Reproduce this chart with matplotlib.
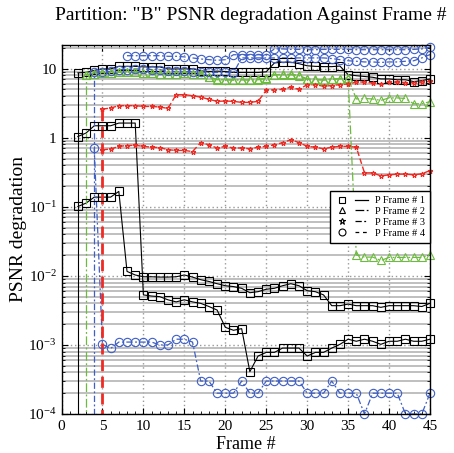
import matplotlib
matplotlib.use('Agg')
import matplotlib.pyplot as plt
from matplotlib.lines import Line2D
from matplotlib.legend_handler import HandlerTuple
from matplotlib.ticker import FixedLocator, FixedFormatter, MultipleLocator, LogLocator, NullFormatter

plt.rcParams['font.family'] = ['Liberation Serif', 'DejaVu Serif']
plt.rcParams['mathtext.fontset'] = 'custom'
plt.rcParams['mathtext.rm'] = 'Liberation Serif'
plt.rcParams['mathtext.it'] = 'Liberation Serif:italic'

# value used before a P frame is first lost (drawn as the start line)
ZERO = 1e-12

# ---------------- data ----------------
p1_start = 2
p1_a = [8.7, 8.8, 9.45, 9.9, 9.9, 10.8, 10.8, 10.8, 10.6, 10.6, 10.6, 9.9, 9.9, 9.9, 10.0,
        9.3, 9.1, 9.2, 9.1, 8.8, 8.8, 8.8, 8.8, 9.0, 12.1, 12.4, 12.4, 11.8, 11.0, 10.8,
        10.7, 10.7, 10.9, 8.2, 7.9, 7.7, 7.5, 7.1, 7.1, 6.9, 6.9, 6.5, 6.7, 7.1]
p1_b = [1.04, 1.17, 1.49, 1.49, 1.49, 1.63, 1.63, 1.63, 0.0053, 0.0051, 0.0050, 0.0045,
        0.0042, 0.0045, 0.0042, 0.0040, 0.0036, 0.0032, 0.0018, 0.00163, 0.00172, 0.00041,
        0.00069, 0.00078, 0.00078, 0.00090, 0.00090, 0.00090, 0.00069, 0.00078, 0.00078,
        0.00090, 0.00102, 0.00121, 0.00113, 0.00121, 0.00113, 0.00102, 0.00113, 0.00113,
        0.00121, 0.00113, 0.00113, 0.00121]
p1_c = [0.101, 0.113, 0.138, 0.138, 0.138, 0.167, 0.0116, 0.0103, 0.0097, 0.0097, 0.0096,
        0.0096, 0.0097, 0.0103, 0.0096, 0.0088, 0.0083, 0.0077, 0.0072, 0.0070, 0.0066,
        0.0057, 0.0059, 0.0064, 0.0066, 0.0072, 0.0077, 0.0072, 0.0061, 0.0059, 0.0053,
        0.0037, 0.0037, 0.0039, 0.0037, 0.0037, 0.0037, 0.0035, 0.0037, 0.0037, 0.0037,
        0.0037, 0.0036, 0.0040]

p2_start = 3
p2_a = [8.2, 8.5, 8.7, 8.7, 8.9, 8.9, 8.9, 8.7, 8.7, 8.5, 8.4, 8.4, 8.7, 8.5, 8.5, 7.6,
        7.0, 6.9, 6.9, 6.9, 6.9, 7.0, 7.3, 8.2, 8.3, 8.3, 8.0, 7.1, 7.0, 6.9, 7.1, 7.2,
        7.3, 3.64, 3.70, 3.64, 3.47, 3.77, 3.77, 3.70, 3.10, 3.10, 3.33]
p2_b = [8.2, 8.4, 8.6, 8.7, 8.8, 8.8, 8.8, 8.7, 8.6, 8.4, 8.3, 8.4, 8.6, 8.4, 8.4, 7.5,
        6.9, 6.9, 6.8, 6.9, 6.8, 6.9, 7.2, 8.1, 8.2, 8.2, 7.9, 7.0, 6.9, 6.8, 7.0, 7.1,
        7.3, 0.0201, 0.0187, 0.0187, 0.0167, 0.0185, 0.0185, 0.0185, 0.0185, 0.0185, 0.0201]

p3_start = 4
p3_a = [8.95, 8.95, 9.1, 9.7, 9.7, 9.9, 9.9, 9.7, 9.7, 9.1, 9.1, 9.1, 9.0, 9.0, 8.8, 8.8,
        8.8, 8.7, 14.3, 14.3, 14.3, 14.3, 14.3, 14.3, 14.3, 14.3, 14.3, 14.3, 14.3, 14.0,
        13.5, 13.0, 12.8, 12.5, 12.5, 12.3, 12.5, 12.5, 12.8, 13.0, 14.3, 16.0]
p3_b = [0.70, 1.02e-3, 8.9e-4, 1.1e-3, 1.1e-3, 1.1e-3, 1.1e-3, 1.1e-3, 1.0e-3, 1.0e-3,
        1.21e-3, 1.21e-3, 1.1e-3, 3e-4, 3e-4, 2e-4, 2e-4, 2e-4, 3e-4, 2e-4, 2e-4, 3e-4,
        3e-4, 3e-4, 3e-4, 3e-4, 2e-4, 2e-4, 2e-4, 3e-4, 2e-4, 2e-4, 2e-4, 1e-4, 2e-4,
        2e-4, 2e-4, 2e-4, 1e-4, 1e-4, 1e-4, 2e-4]
p3_top_start = 8
p3_top = [15.4, 15.4, 15.4, 15.4, 15.4, 15.1, 15.1, 14.8, 14.3, 13.8, 13.5, 13.2, 13.5,
          15.9, 15.9, 15.9, 15.9, 15.9, 19.3, 19.3, 19.0, 19.0, 18.8, 18.8, 19.0, 19.0,
          19.0, 19.0, 18.8, 18.8, 18.8, 18.8, 18.8, 18.8, 18.8, 19.0, 19.3, 20.5]

p4_start = 5
p4_a = [2.6, 2.69, 2.91, 2.91, 2.91, 2.84, 2.84, 2.78, 2.66, 4.2, 4.2, 4.06, 3.87, 3.6,
        3.36, 3.40, 3.36, 3.25, 3.25, 3.36, 4.85, 4.95, 5.0, 5.4, 5.0, 5.87, 5.87, 5.55,
        5.7, 5.87, 6.0, 6.4, 6.4, 6.2, 6.0, 6.4, 6.4, 6.3, 6.3, 6.4, 6.55]
p4_b = [0.67, 0.685, 0.75, 0.77, 0.776, 0.75, 0.73, 0.72, 0.67, 0.655, 0.655, 0.63, 0.85,
        0.79, 0.71, 0.75, 0.71, 0.71, 0.69, 0.73, 0.75, 0.79, 0.85, 0.935, 0.85, 0.75,
        0.73, 0.69, 0.73, 0.75, 0.75, 0.73, 0.31, 0.31, 0.28, 0.29, 0.297, 0.297, 0.29,
        0.30, 0.335]

legend_labels = ['P Frame # 1', 'P Frame # 2', 'P Frame # 3', 'P Frame # 4']
x_ticks = [0, 5, 10, 15, 20, 25, 30, 35, 40, 45]
y_ticks = [1e-4, 1e-3, 1e-2, 1e-1, 1, 10]
y_tick_labels = ['10$^{-4}$', '10$^{-3}$', '10$^{-2}$', '10$^{-1}$', '1', '10']

# ---------------- styles ----------------
BLACK = '#000000'
GREEN = '#6dbb3e'
BLUE = '#3f5fc4'
RED = '#f02a22'

fig = plt.figure(figsize=(4.54, 4.53), dpi=100)
ax = fig.add_axes([61.5 / 454, 39 / 453, 368.5 / 454, 369 / 453])
ax.set_yscale('log')


def draw_group(start, series, color, marker, ms, lw, dashes=None, lead_lw=None):
    # start line: from "zero" up to the first value of the group
    first = max(s[0] for s in series)
    kw = dict(color=color, linestyle='-', zorder=3)
    if dashes is not None:
        kw['dashes'] = dashes
    ax.plot([start, start], [ZERO, first], lw=lead_lw or lw, **kw)
    for vals in series:
        xs = list(range(start, start + len(vals)))
        ax.plot(xs, vals, lw=lw, **kw)
        ax.plot(xs, vals, linestyle='none', marker=marker, ms=ms, mfc='none',
                mec=color, mew=0.8, clip_on=False, zorder=4)


def draw_series(start, vals, color, marker, ms, lw, dashes=None):
    xs = list(range(start, start + len(vals)))
    kw = dict(color=color, linestyle='-', zorder=3)
    if dashes is not None:
        kw['dashes'] = dashes
    ax.plot(xs, vals, lw=lw, **kw)
    ax.plot(xs, vals, linestyle='none', marker=marker, ms=ms, mfc='none',
            mec=color, mew=0.8, clip_on=False, zorder=4)


# P frame 1 (black, solid, squares)
draw_group(p1_start, [p1_a, p1_b, p1_c], BLACK, 's', 5.5, 0.8)
# P frame 2 (green, dash-dot, triangles)
draw_group(p2_start, [p2_a, p2_b], GREEN, '^', 5.5, 0.9, dashes=(7, 2, 1.5, 2))
# P frame 3 (blue, dash-dot, circles)
draw_group(p3_start, [p3_a, p3_b], BLUE, 'o', 6.0, 0.9, dashes=(5, 2, 1.5, 2))
draw_series(p3_top_start, p3_top, BLUE, 'o', 6.0, 0.9, dashes=(5, 2, 1.5, 2))
# P frame 4 (red, dashed, stars)
draw_group(p4_start, [p4_a, p4_b], RED, '*', 3.5, 1.0, dashes=(4, 2), lead_lw=2.0)

# ---------------- axes ----------------
ax.set_xlim(0, 45)
ax.set_ylim(1e-4, 22)
ax.xaxis.set_major_locator(FixedLocator(x_ticks))
ax.xaxis.set_minor_locator(MultipleLocator(1))
ax.yaxis.set_major_locator(FixedLocator(y_ticks))
ax.yaxis.set_major_formatter(FixedFormatter(y_tick_labels))
ax.yaxis.set_minor_locator(LogLocator(base=10, subs=range(2, 10), numticks=20))
ax.yaxis.set_minor_formatter(NullFormatter())

ax.grid(True, which='major', axis='both', linestyle=(0, (1, 2)), color='#999999', lw=1.0, zorder=1)
ax.grid(True, which='minor', axis='y', linestyle='-', color='#b4b4b4', lw=1.2, zorder=1)

ax.tick_params(which='both', direction='in', top=True, right=True, labelsize=11, colors='black')
ax.tick_params(which='major', length=4, width=0.8)
ax.tick_params(which='minor', length=2, width=0.6)
ax.tick_params(axis='x', pad=4)
for sp in ax.spines.values():
    sp.set_linewidth(1.0)
    sp.set_zorder(5)

fig.text(251 / 454, 1 - 15 / 453, 'Partition: "B" PSNR degradation Against Frame #',
         ha='center', va='center', fontsize=14)
ax.set_xlabel('Frame #', fontsize=13)
ax.xaxis.set_label_coords(0.5, -0.059)
ax.set_ylabel('PSNR degradation', fontsize=14, labelpad=1)

# ---------------- legend ----------------
mk_styles = [('s', None), ('^', (7, 2, 1.5, 2)), ('*', (5, 2, 1.5, 2)), ('o', (3, 3))]
handles = []
for m, d in mk_styles:
    mk = Line2D([], [], linestyle='none', marker=m, ms=5, mfc='none', mec='black', mew=0.8)
    kw = dict(color='black', lw=0.9, linestyle='-')
    if d is not None:
        kw['dashes'] = d
    ln = Line2D([], [], **kw)
    handles.append((mk, ln))
leg = ax.legend(handles, legend_labels, handler_map={tuple: HandlerTuple(ndivide=None, pad=0.6)},
                loc='upper right', bbox_to_anchor=(1.0, 0.605), fontsize=7.5, frameon=True,
                fancybox=False, framealpha=1, edgecolor='black', handlelength=3.2,
                labelspacing=0.15, borderpad=0.5, handletextpad=0.6, borderaxespad=0)
leg.get_frame().set_linewidth(1.0)
leg.set_zorder(10)

fig.savefig('out.png', dpi=100)
